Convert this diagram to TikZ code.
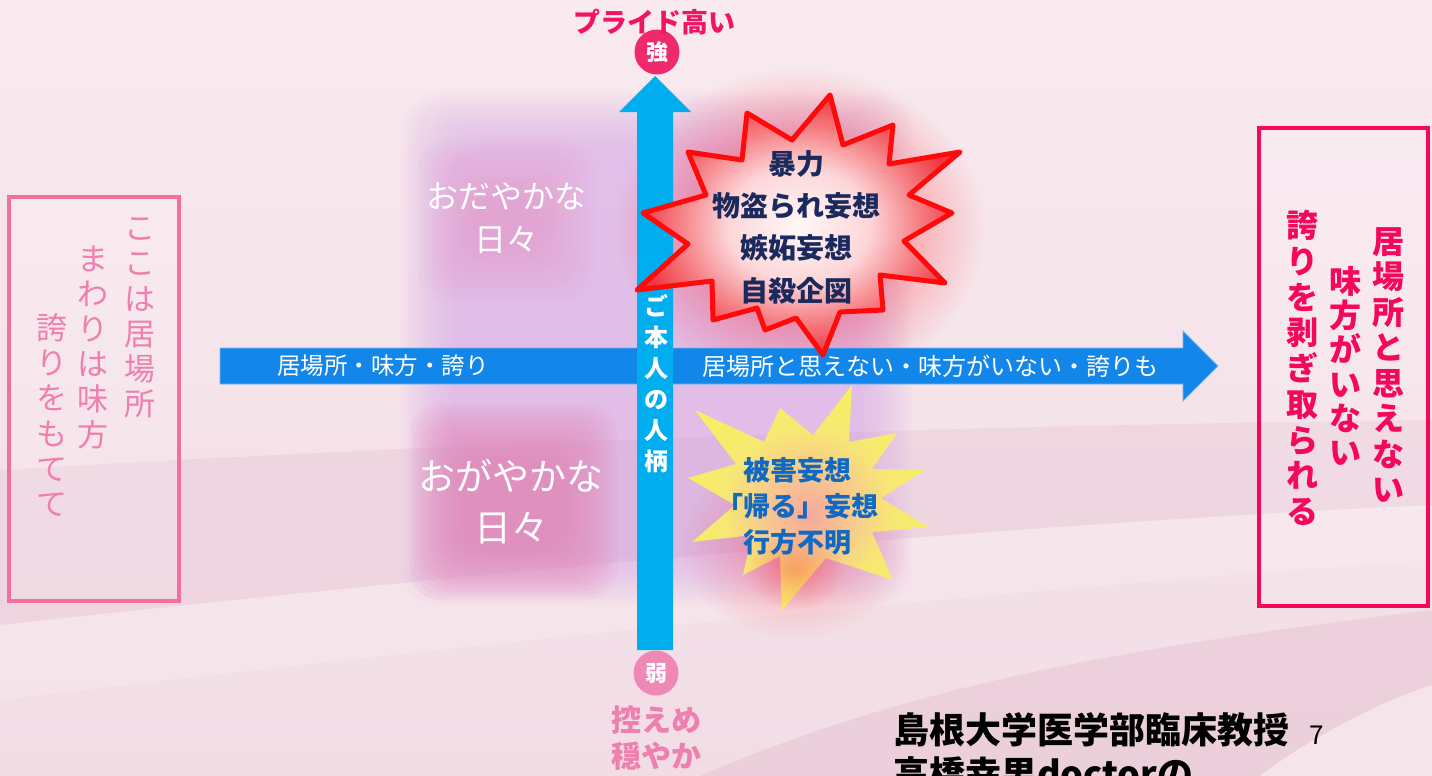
\documentclass[tikz,border=0pt]{standalone}
\usepackage{fontspec}
\setmainfont{Noto Sans CJK JP}
\usetikzlibrary{fadings}
\definecolor{bgtop}{HTML}{F8EAEF}
\definecolor{bgbot}{HTML}{F2DDE5}
\definecolor{swoosh}{HTML}{E7C6D4}
\definecolor{lightsw}{HTML}{FAEEF2}
\definecolor{lav}{HTML}{D7A6E8}
\definecolor{pinkA}{HTML}{E58CC0}
\definecolor{pinkB}{HTML}{EA86B6}
\definecolor{hblue}{HTML}{1387E9}
\definecolor{vcyan}{HTML}{00AEEF}
\definecolor{strongC}{HTML}{EE2A6C}
\definecolor{prideC}{HTML}{F01462}
\definecolor{weakC}{HTML}{EE88B4}
\definecolor{leftC}{HTML}{F26FA0}
\definecolor{leftT}{HTML}{EE7FAE}
\definecolor{rightC}{HTML}{F5075C}
\definecolor{navyT}{HTML}{1B2A5C}
\definecolor{blueT}{HTML}{1169C2}
\definecolor{starRed}{HTML}{FF0A0A}
\pgfdeclareradialshading{redstarshade}{\pgfpoint{0bp}{0bp}}{rgb(0bp)=(1,0.97,0.97); rgb(11bp)=(0.99,0.84,0.85); rgb(19bp)=(0.96,0.48,0.50); rgb(25bp)=(0.94,0.22,0.26); rgb(50bp)=(0.94,0.22,0.26)}
\pgfdeclareradialshading{yelstarshade}{\pgfpoint{0bp}{-4bp}}{rgb(0bp)=(0.96,0.66,0.62); rgb(10bp)=(0.97,0.80,0.55); rgb(18bp)=(0.97,0.91,0.45); rgb(25bp)=(0.97,0.93,0.40); rgb(50bp)=(0.97,0.93,0.40)}
\tikzfading[name=glowfade, inner color=transparent!0, outer color=transparent!100]
\tikzset{
  vcol/.style={align=center, inner sep=0pt},
  boxframe/.style={line width=3.5pt},
  startext/.style={align=center, inner sep=0pt, font=\bfseries\fontsize{28}{42.3}\selectfont, text=navyT},
}
\begin{document}
\begin{tikzpicture}[x=1pt,y=-1pt]
\useasboundingbox (0,0) rectangle (1432,776);
% background
\shade[top color=bgtop, bottom color=bgbot] (0,0) rectangle (1432,776);
\fill[swoosh, opacity=0.4] (0,470) .. controls (500,440) and (1000,425) .. (1432,420) -- (1432,505) .. controls (1000,525) and (500,570) .. (0,625) -- cycle;
\fill[lightsw, opacity=0.35] (0,625) .. controls (500,570) and (1000,525) .. (1432,505) -- (1432,560) .. controls (1000,590) and (500,640) .. (0,700) -- cycle;
\fill[swoosh, opacity=0.55] (700,776) .. controls (900,690) and (1100,650) .. (1432,610) -- (1432,776) -- cycle;
\fill[lightsw, opacity=0.7] (1260,776) .. controls (1300,745) and (1370,705) .. (1432,685) -- (1432,776) -- cycle;
% soft blobs
\foreach \i in {0,...,13}
  \fill[lav, opacity=0.055, rounded corners=40] ({400+4*\i},{92+4*\i}) rectangle ({912-4*\i},{605-4*\i});
\foreach \i in {0,...,11}
  \fill[pinkA, opacity=0.045, rounded corners=30] ({418+5*\i},{138+5*\i}) rectangle ({594-5*\i},{302-5*\i});
\foreach \i in {0,...,13}
  \fill[pinkB, opacity=0.085, rounded corners=30] ({410+4*\i},{403+4*\i}) rectangle ({617-4*\i},{600-4*\i});
% red glow
\fill[red, opacity=0.6, path fading=glowfade] (800,228) ellipse (185 and 160);
% horizontal arrow
\path[fill=hblue, draw=hblue!60!white, line width=0.8pt] (220,348) -- (1183,348) -- (1183,331) -- (1218,366) -- (1183,401) -- (1183,384) -- (220,384) -- cycle;
\node[anchor=west, inner sep=0pt, text=white, font=\fontsize{23.5}{28}\selectfont] (hleft) at (277,366) {居場所・味方・誇り};
\node[anchor=west, inner sep=0pt, text=white, font=\fontsize{24}{28}\selectfont] (hright) at (702,366) {居場所と思えない・味方がいない・誇りも};
% vertical arrow
\fill[vcyan] (637,650) -- (637,112) -- (619,112) -- (655,76) -- (691,112) -- (673,112) -- (673,650) -- cycle;
\node[vcol, text=white, font=\bfseries\fontsize{24}{31}\selectfont] (vlabel) at (656,384) {ご\\本\\人\\の\\人\\柄};
% red star
\path[shading=redstarshade, shade, draw=starRed, line width=5pt, line join=round]
 (830,95) -- (843,145) -- (893,125) -- (889,164) -- (960,152) -- (909,195) -- (952,213) -- (904,241) -- (945,283) -- (880,275) -- (883,310) -- (840,312) -- (823,355) -- (796,318) -- (765,330) -- (757,308) -- (713,320) -- (712,281) -- (637,290) -- (688,244) -- (643,213) -- (706,195) -- (688,152) -- (742,160) -- (747,113) -- (792,140) -- cycle;
\node[startext] (redtext) at (796,227) {暴力\\物盗られ妄想\\嫉妬妄想\\自殺企図};
% yellow star
\fill[red, opacity=0.3, path fading=glowfade] (795,545) ellipse (115 and 95);
\path[shading=yelstarshade, shade]
 (852,385) -- (849,442) -- (897,433) -- (872,469) -- (925,470) -- (881,498) -- (928,527) -- (872,532) -- (893,580) -- (826,558) -- (782,610) -- (780,556) -- (743,575) -- (752,535) -- (692,542) -- (735,505) -- (688,478) -- (736,464) -- (695,410) -- (764,442) -- (780,408) -- (813,435) -- cycle;
\fill[red, opacity=0.25, path fading=glowfade] (795,570) ellipse (50 and 40);
\node[startext, text=blueT, font=\bfseries\fontsize{27}{36}\selectfont] (yeltext) at (797,506) {被害妄想\\「帰る」妄想\\行方不明};
% quadrant texts
\node[vcol, text=white, font=\fontsize{32}{43}\selectfont] (calm1) at (506,218) {おだやかな\\日々};
\node[vcol, text=white, font=\fontsize{37}{51}\selectfont] (calm2) at (511,502) {おがやかな\\日々};
% top and bottom labels
\node[circle, fill=strongC, minimum size=45pt, inner sep=0pt, text=white, font=\bfseries\fontsize{22}{26}\selectfont] (strong) at (657,52) {強};
\node[inner sep=0pt, text=prideC, font=\bfseries\fontsize{27}{32}\selectfont] (pride) at (654,22) {プライド高い};
\node[circle, fill=weakC, minimum size=45pt, inner sep=0pt, text=white, font=\bfseries\fontsize{22}{26}\selectfont] (weak) at (656,673) {弱};
\node[vcol, text=leftT, font=\bfseries\fontsize{30}{36}\selectfont] (modest) at (656,738) {控えめ\\穏やか};
% left box
\draw[boxframe, draw=leftC, fill=white, fill opacity=0.12] (9,197) rectangle (179,601);
\node[vcol, text=leftT, font=\fontsize{31}{35.2}\selectfont] (l1) at (140,318) {こ\\こ\\は\\居\\場\\所};
\node[vcol, text=leftT, font=\fontsize{31}{35.2}\selectfont] (l2) at (93,347) {ま\\わ\\り\\は\\味\\方};
\node[vcol, text=leftT, font=\fontsize{31}{35.2}\selectfont] (l3) at (52,415) {誇\\り\\を\\も\\て\\て};
% right box
\draw[boxframe, draw=rightC, fill=white, fill opacity=0.12] (1259,128) rectangle (1428,606);
\node[vcol, text=rightC, font=\bfseries\fontsize{32}{35.5}\selectfont] (r1) at (1388,365) {居\\場\\所\\と\\思\\え\\な\\い};
\node[vcol, text=rightC, font=\bfseries\fontsize{32}{34.2}\selectfont] (r2) at (1345,366) {味\\方\\が\\い\\な\\い};
\node[vcol, text=rightC, font=\bfseries\fontsize{32}{35.7}\selectfont] (r3) at (1302,368) {誇\\り\\を\\剥\\ぎ\\取\\ら\\れ\\る};
% footer (second line cut off by the page edge, as in the reference)
\node[anchor=base west, inner sep=0pt, text=black, font=\bfseries\fontsize{36}{44}\selectfont] (credit1) at (893,743) {島根大学医学部臨床教授};
\node[anchor=base west, inner sep=0pt, text=black, font=\bfseries\fontsize{36}{44}\selectfont] (credit2) at (893,787) {高橋幸男doctorの};
\node[inner sep=0pt, text=black, font=\fontsize{26}{30}\selectfont] (pagenum) at (1317,735) {7};
\end{tikzpicture}
\end{document}
